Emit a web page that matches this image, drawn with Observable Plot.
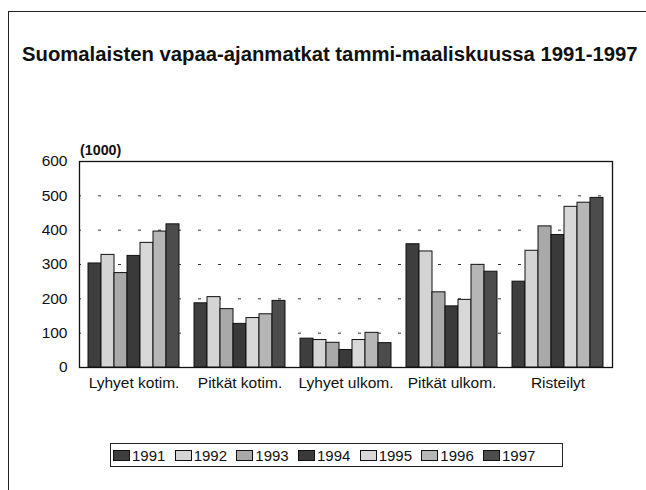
<!DOCTYPE html>
<html><head><meta charset="utf-8">
<script src="https://cdn.jsdelivr.net/npm/d3@7"></script>
<script src="https://cdn.jsdelivr.net/npm/@observablehq/plot@0.6"></script>
<style>
body{margin:0;background:#fff;font-family:"Liberation Sans",Arial,Helvetica,sans-serif;color:#111;}
#wrap{position:relative;width:646px;height:490px;overflow:hidden;background:#fff;}
#outer{position:absolute;left:8px;top:11px;width:700px;height:600px;border-left:1.5px solid #222;border-top:1.5px solid #222;}
#title{position:absolute;left:22px;top:43px;font-weight:bold;font-size:20.3px;white-space:nowrap;}
#unit{position:absolute;left:80px;top:142px;font-weight:bold;font-size:14.3px;}
.layer{position:absolute;left:0;top:0;}
#legend{position:absolute;left:110px;top:443px;width:453px;height:24px;border:1.5px solid #222;box-sizing:border-box;display:flex;align-items:center;padding-left:2px;font-size:15px;}
.item{display:flex;align-items:center;margin-right:9.3px;}
.sw{width:15px;height:9px;border:1px solid #111;margin-right:2px;}
</style></head>
<body><div id="wrap">
<div id="outer"></div>
<div id="back" class="layer"></div>
<div id="front" class="layer"></div>
<div id="title">Suomalaisten vapaa-ajanmatkat tammi-maaliskuussa 1991-1997</div>
<div id="unit">(1000)</div>
<div id="legend"></div>
</div>
<script>
const categories = ["Lyhyet kotim.", "Pitkät kotim.", "Lyhyet ulkom.", "Pitkät ulkom.", "Risteilyt"];
const years = ["1991", "1992", "1993", "1994", "1995", "1996", "1997"];
const colors = ["#3e3e3e", "#d4d4d4", "#a9a9a9", "#3a3a3a", "#d8d8d8", "#b6b6b6", "#4c4c4c"];
const lyhyetKotim = [303, 328, 275, 325, 363, 396, 417];
const pitkatKotim = [187, 205, 170, 127, 144, 155, 194];
const lyhyetUlkom = [84, 80, 72, 51, 80, 101, 71];
const pitkatUlkom = [359, 338, 219, 178, 197, 299, 279];
const risteilyt = [250, 340, 411, 386, 468, 480, 494];
const yTicks = [0, 100, 200, 300, 400, 500, 600];
const gridTicks = [100, 200, 300, 400, 500];

const series = [lyhyetKotim, pitkatKotim, lyhyetUlkom, pitkatUlkom, risteilyt];
const data = categories.flatMap((c, i) => years.map((y, j) => ({category: c, year: y, value: series[i][j]})));

const common = {
  width: 646, height: 490,
  marginLeft: 79, marginRight: 34, marginTop: 161, marginBottom: 123,
  style: {fontFamily: "'Liberation Sans', Arial, sans-serif", fontSize: "15.5px", color: "#111", background: "transparent"}
};

// Background layer: grid, frame, y axis (same y scale as bars)
const back = Plot.plot({
  ...common,
  x: {axis: null},
  y: {domain: [0, 600], label: null},
  marks: [
    Plot.ruleY(gridTicks, {stroke: "#333", strokeWidth: 1, strokeDasharray: "3,17", strokeDashoffset: -19}),
    Plot.frame({stroke: "#111", strokeWidth: 1.3}),
    Plot.axisY({ticks: yTicks, tickSize: 0, tickPadding: 12, fontSize: 15.5, label: null})
  ]
});
document.getElementById("back").appendChild(back);

// Front layer: grouped bars and category axis
const front = Plot.plot({
  ...common,
  fx: {domain: categories, paddingInner: 0.146, paddingOuter: 0.073, label: null},
  x: {domain: years, padding: 0, axis: null},
  y: {domain: [0, 600], axis: null},
  color: {domain: years, range: colors},
  marks: [
    Plot.barY(data, {fx: "category", x: "year", y: "value", fill: "year", stroke: "#111", strokeWidth: 1}),
    Plot.axisFx({anchor: "bottom", tickSize: 0, tickPadding: 9, fontSize: 15.5, label: null})
  ]
});
document.getElementById("front").appendChild(front);

const legend = document.getElementById("legend");
years.forEach((y, i) => {
  const it = document.createElement("div");
  it.className = "item";
  const sw = document.createElement("div");
  sw.className = "sw";
  sw.style.background = colors[i];
  it.appendChild(sw);
  it.appendChild(document.createTextNode(y));
  legend.appendChild(it);
});
</script>
</body></html>
